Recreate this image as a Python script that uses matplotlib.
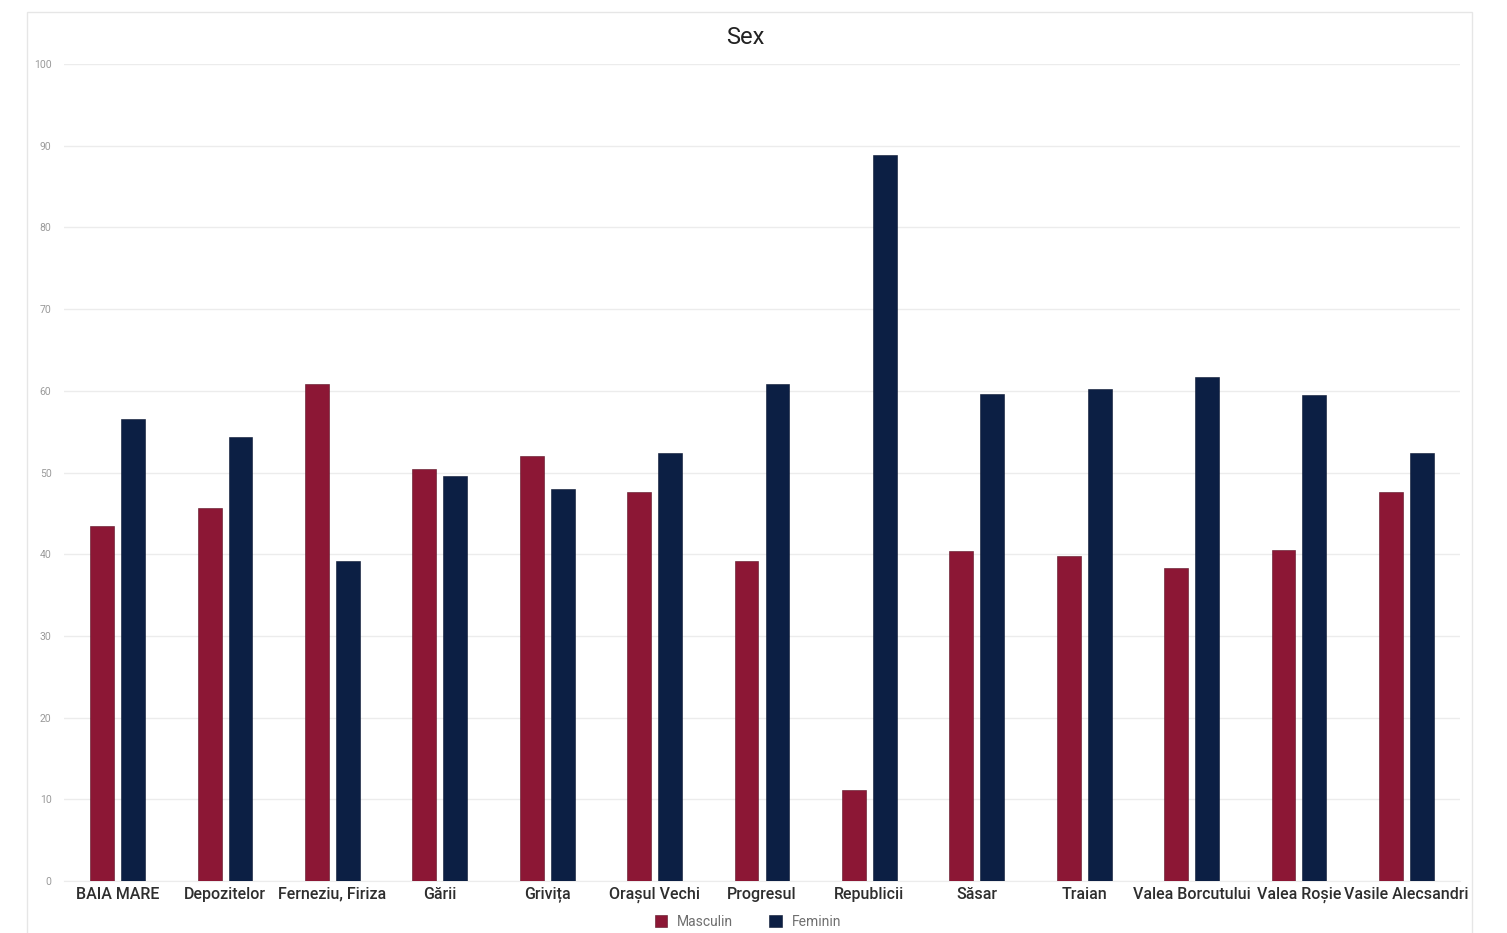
import matplotlib
matplotlib.use("Agg")
import matplotlib.pyplot as plt
from matplotlib.patches import Rectangle
import numpy as np

plt.rcParams['font.family'] = ['Roboto', 'DejaVu Sans']

categories = ["BAIA MARE", "Depozitelor", "Ferneziu, Firiza", "Gării", "Grivița",
              "Orașul Vechi", "Progresul", "Republicii", "Săsar", "Traian",
              "Valea Borcutului", "Valea Roșie", "Vasile Alecsandri"]
masculin = [43.4, 45.6, 60.8, 50.4, 52.0, 47.6, 39.2, 11.1, 40.4, 39.8, 38.3, 40.5, 47.6]
feminin = [56.6, 54.4, 39.2, 49.6, 48.0, 52.4, 60.8, 88.9, 59.6, 60.2, 61.7, 59.5, 52.4]
y_ticks = [0, 10, 20, 30, 40, 50, 60, 70, 80, 90, 100]

red = "#8c1735"
navy = "#0c1f44"

fig = plt.figure(figsize=(15.07, 9.33), dpi=100)
fig.patch.set_facecolor("white")

# light outer frame around the chart
fig.add_artist(Rectangle((27 / 1507, -0.01), 1445 / 1507, 1 - 12 / 933 + 0.01,
                         transform=fig.transFigure, fill=False,
                         edgecolor="#e6e6e6", linewidth=1.0))

ax = fig.add_axes([64 / 1507, 1 - 881 / 933, 1396 / 1507, (881 - 64) / 933])

x = np.arange(len(categories))
w = 0.222
off = 0.144
ax.bar(x - off, masculin, width=w, color=red, edgecolor="#5a1024", linewidth=0.4,
       label="Masculin", zorder=3)
ax.bar(x + off, feminin, width=w, color=navy, edgecolor="#081530", linewidth=0.4,
       label="Feminin", zorder=3)

ax.set_xlim(-0.5, len(categories) - 0.5)
ax.set_ylim(0, 100)
ax.set_yticks(y_ticks)
ax.set_yticklabels([str(v) for v in y_ticks], fontsize=7.5, color="#9a9a9a")
ax.yaxis.grid(True, color="#ececec", linewidth=1.0, zorder=0)
ax.set_axisbelow(True)
ax.tick_params(axis="y", length=0, pad=9)
ax.tick_params(axis="x", length=0, pad=4)
ax.set_xticks(x)
ax.set_xticklabels(categories, fontsize=11.5, color="#2e2e2e", fontweight="medium")
for s in ["top", "right", "left"]:
    ax.spines[s].set_visible(False)
ax.spines["bottom"].set_color("#ececec")

fig.text(745 / 1507, 1 - 38 / 933, "Sex", ha="center", va="center",
         fontsize=17, color="#222222")

leg = fig.legend(loc="center", bbox_to_anchor=(748 / 1507, 1 - 922 / 933), ncol=2,
                 frameon=False, fontsize=10, handlelength=0.9, handleheight=0.9,
                 columnspacing=2.6, handletextpad=0.7)
for t in leg.get_texts():
    t.set_color("#6f6f6f")

fig.savefig("out.png", dpi=100, facecolor="white")
